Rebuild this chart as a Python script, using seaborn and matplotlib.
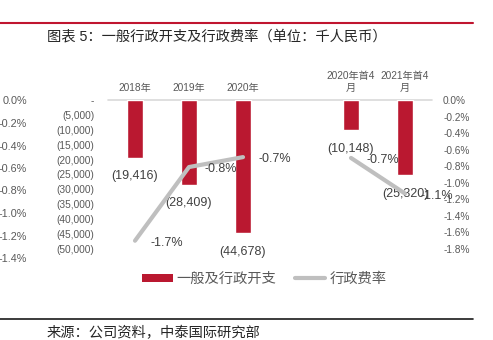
import matplotlib
matplotlib.use("Agg")
import matplotlib.pyplot as plt
import seaborn as sns
import numpy as np
import pandas as pd
from matplotlib.patches import Patch
from matplotlib.lines import Line2D

sns.set_theme(style="white")
plt.rcParams['font.family'] = ['Liberation Sans', 'Noto Sans CJK SC', 'DejaVu Sans']

# ---- data ----
categories = ["2018年", "2019年", "2020年", " ", "2020年首4\n月", "2021年首4\n月"]
expense = [-19416, -28409, -44678, np.nan, -10148, -25320]
expense_labels = ["(19,416)", "(28,409)", "(44,678)", "", "(10,148)", "(25,320)"]
rate = [-1.7, -0.81, -0.69, np.nan, -0.70, -1.13]
rate_labels = ["-1.7%", "-0.8%", "-0.7%", "", "-0.7%", "-1.1%"]
segment = [1, 1, 1, 0, 2, 2]
left_ticks = list(range(0, -50001, -5000))
right_ticks = [0, -0.2, -0.4, -0.6, -0.8, -1.0, -1.2, -1.4, -1.6, -1.8]
stray_ticks = [0, -0.2, -0.4, -0.6, -0.8, -1.0, -1.2, -1.4]

BAR = "#BA1830"
LINE = "#BFBFBF"
TICK = "#595959"
LAB = "#404040"

W, H = 493, 340
fig = plt.figure(figsize=(W / 100, H / 100), dpi=100)

ax = fig.add_axes([108 / W, 91 / H, 324 / W, 149 / H])
df = pd.DataFrame({"cat": categories, "val": expense})
sns.barplot(data=df, x="cat", y="val", order=categories, color=BAR,
            width=0.3, ax=ax, saturation=1)
ax.set_xlim(-0.5, 5.5)
ax.set_ylim(-50000, 0)
ax.set_yticks(left_ticks)
ax.set_yticklabels(["-" if v == 0 else "({:,})".format(-v) for v in left_ticks])
ax.set_xlabel("")
ax.set_ylabel("")
ax.xaxis.tick_top()
ax.set_xticks(range(len(categories)))
ax.set_xticklabels(categories)
ax.tick_params(axis="x", length=0, pad=5, labelsize=7.3, labelcolor=TICK)
ax.tick_params(axis="y", length=0, pad=10, labelsize=7.3, labelcolor=TICK)
for s in ax.spines.values():
    s.set_visible(False)
ax.axhline(0, color="#D9D9D9", lw=1.2, clip_on=False, zorder=0)
ax.grid(False)

for i, (v, t) in enumerate(zip(expense, expense_labels)):
    if t:
        ax.annotate(t, (i, v), xytext=(0, -9), textcoords="offset points",
                    ha="center", va="top", fontsize=9, color=LAB)

ax2 = ax.twinx()
ldf = pd.DataFrame({"x": range(len(categories)), "rate": rate, "seg": segment})
ldf = ldf[ldf["seg"] > 0]
sns.lineplot(data=ldf, x="x", y="rate", units="seg", estimator=None,
             color=LINE, lw=3, ax=ax2, legend=False)
ax2.set_ylim(-1.8, 0)
ax2.set_yticks(right_ticks)
ax2.set_yticklabels(["0.0%" if v == 0 else "{:.1f}%".format(v) for v in right_ticks])
ax2.tick_params(axis="y", length=0, pad=8, labelsize=7.3, labelcolor=TICK)
ax2.set_xlabel("")
ax2.set_ylabel("")
for s in ax2.spines.values():
    s.set_visible(False)
ax2.grid(False)
for i, (v, t) in enumerate(zip(rate, rate_labels)):
    if t:
        ax2.annotate(t, (i, v), xytext=(11, -1.5), textcoords="offset points",
                     ha="left", va="center", fontsize=9, color=LAB)

# stray axis on the far left
ax3 = fig.add_axes([27 / W, (H - 258) / H, 0.005, 157.5 / H])
ax3.set_ylim(-1.4, 0)
ax3.set_yticks(stray_ticks)
ax3.set_yticklabels(["0.0%" if v == 0 else "{:.1f}%".format(v) for v in stray_ticks])
ax3.tick_params(axis="y", length=0, pad=0, labelsize=7.8, labelcolor=TICK)
ax3.xaxis.set_visible(False)
for s in ax3.spines.values():
    s.set_visible(False)
ax3.patch.set_alpha(0)

# legend
handles = [Patch(facecolor=BAR, edgecolor="none"),
           Line2D([0], [0], color=LINE, lw=3)]
leg = fig.legend(handles, ["一般及行政开支", "行政费率"], loc="center",
                 bbox_to_anchor=(264.5 / W, 61 / H), ncol=2, frameon=False,
                 fontsize=10.3, handlelength=2.1, handleheight=0.5,
                 handletextpad=0.3, columnspacing=1.3)
for t in leg.get_texts():
    t.set_color(TICK)

# title, source and rules
fig.text(47 / W, 1 - 36 / H, "图表 5：一般行政开支及行政费率（单位：千人民币）",
         ha="left", va="center", fontsize=10.3, color="#262626")
fig.text(47 / W, 1 - 333 / H, "来源：公司资料，中泰国际研究部",
         ha="left", va="center", fontsize=10.3, color="#262626")
fig.add_artist(Line2D([0, 473 / W], [1 - 23 / H] * 2, color="#C0152F", lw=1.5))
fig.add_artist(Line2D([0, 473 / W], [1 - 319 / H] * 2, color="#1a1a1a", lw=1.2))

fig.savefig("out.png", dpi=100)
